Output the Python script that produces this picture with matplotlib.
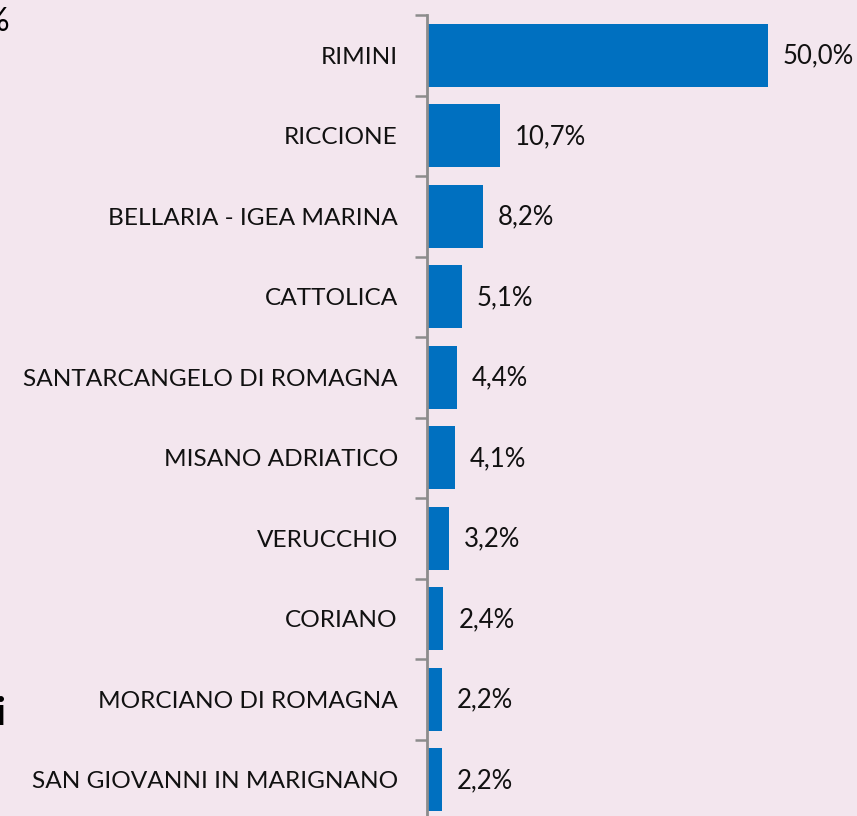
import matplotlib
matplotlib.use("Agg")
import matplotlib.pyplot as plt

categories = ["RIMINI", "RICCIONE", "BELLARIA - IGEA MARINA", "CATTOLICA",
              "SANTARCANGELO DI ROMAGNA", "MISANO ADRIATICO", "VERUCCHIO",
              "CORIANO", "MORCIANO DI ROMAGNA", "SAN GIOVANNI IN MARIGNANO"]
values = [50.0, 10.7, 8.2, 5.1, 4.4, 4.1, 3.2, 2.4, 2.2, 2.2]
value_labels = ["50,0%", "10,7%", "8,2%", "5,1%", "4,4%", "4,1%", "3,2%", "2,4%", "2,2%", "2,2%"]

bg = "#F3E6EE"
bar_color = "#0070C0"
W, H = 857, 816
fig = plt.figure(figsize=(W/100, H/100), dpi=100, facecolor=bg)
ax_left, ax_top, ax_bottom = 427/W, 1 - 15/H, 1 - 820/H
ax = fig.add_axes([ax_left, ax_bottom, 1 - ax_left, ax_top - ax_bottom])
ax.set_facecolor(bg)

pos = list(range(len(categories)))
ax.barh(pos, values, height=0.78, color=bar_color, zorder=2)
ax.set_ylim(len(categories) - 0.5, -0.5)
ax.set_xlim(0, 50 * (W - 427) / 341)

for y, v, t in zip(pos, values, value_labels):
    ax.annotate(t, (v, y), xytext=(15, -1), textcoords="offset pixels",
                va="center", ha="left", fontsize=18.5, family="Lato", color="#111111")

ax.set_yticks([p - 0.5 for p in pos] + [len(categories) - 0.5], minor=False)
ax.set_yticklabels([])
ax.set_yticks(pos, minor=True)
ax.set_yticklabels(categories, minor=True, fontsize=17.6, family="Lato", color="#111111")
ax.tick_params(axis="y", which="major", length=9, width=1.8, color="#8C8C8C", direction="out")
ax.tick_params(axis="y", which="minor", length=0, pad=21)
ax.set_xticks([])
for s in ["top", "right", "bottom"]:
    ax.spines[s].set_visible(False)
ax.spines["left"].set_color("#8C8C8C")
ax.spines["left"].set_linewidth(2)

fig.text(9/W, 1 - 22/H, "%", ha="right", va="center", fontsize=24, family="Lato", color="black")
fig.text(5/W, 1 - 725/H, "i", ha="right", va="baseline", fontsize=28, family="Lato", weight="bold", color="black")

fig.savefig("out.png", dpi=100, facecolor=bg)
